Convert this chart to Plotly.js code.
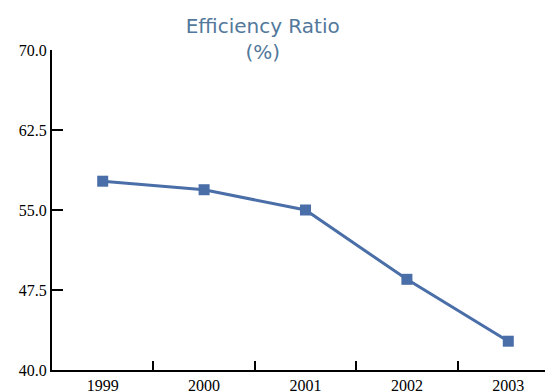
<!DOCTYPE html>
<html>
<head>
<meta charset="utf-8">
<script src="https://cdn.plot.ly/plotly-3.0.1.min.js"></script>
<style>
  html, body { margin: 0; padding: 0; background: #fff; }
  #chart { width: 545px; height: 392px; }
</style>
</head>
<body>
<div id="chart"></div>
<script>
// Efficiency ratio by year
const years = ['1999', '2000', '2001', '2002', '2003'];
const ratio = [57.7, 56.9, 55.0, 48.5, 42.7];
const yTicks = [40, 47.5, 55, 62.5, 70];
const yTickText = ['40.0', '47.5', '55.0', '62.5', '70.0'];

const trace = {
  x: years,
  y: ratio,
  type: 'scatter',
  mode: 'lines+markers',
  line: { color: '#4a6ea8', width: 3 },
  marker: { symbol: 'square', size: 11, color: '#4a6ea8' },
  hoverinfo: 'x+y'
};

const tickFont = { family: 'Liberation Serif', size: 16, color: '#000' };

const layout = {
  width: 545,
  height: 392,
  margin: { l: 52, r: 0, t: 50, b: 22 },
  paper_bgcolor: '#ffffff',
  plot_bgcolor: '#ffffff',
  showlegend: false,
  title: {
    text: 'Efficiency Ratio<br>(%)',
    font: { family: 'DejaVu Sans', size: 20, color: '#52789b' },
    xref: 'container',
    yref: 'container',
    x: 0.482,
    xanchor: 'center',
    y: 0.917,
    yanchor: 'middle'
  },
  xaxis: {
    type: 'category',
    range: [-0.5, 4.362],
    showline: true,
    linecolor: '#000',
    linewidth: 2,
    ticks: 'inside',
    tickson: 'boundaries',
    ticklen: 9,
    tickwidth: 2,
    tickcolor: '#000',
    showgrid: false,
    zeroline: false,
    tickfont: tickFont
  },
  yaxis: {
    range: [40, 70],
    tickvals: yTicks,
    ticktext: yTickText,
    showline: true,
    linecolor: '#000',
    linewidth: 2,
    ticks: 'inside',
    ticklen: 11,
    tickwidth: 2,
    tickcolor: '#000',
    showgrid: false,
    zeroline: false,
    tickfont: tickFont
  }
};

Plotly.newPlot('chart', [trace], layout, { displayModeBar: false, staticPlot: true });
</script>
</body>
</html>
